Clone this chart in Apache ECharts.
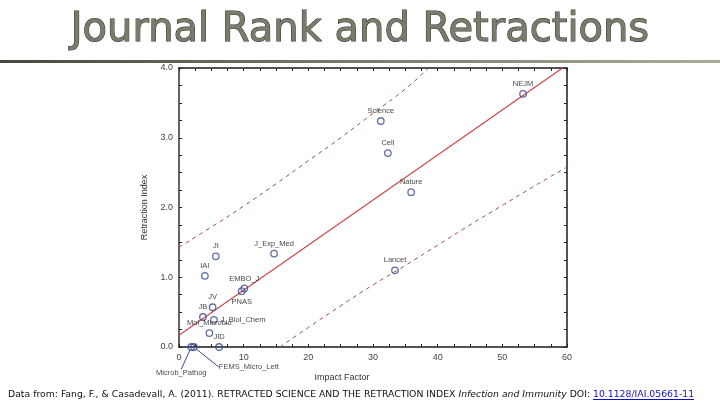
<!DOCTYPE html>
<html><head><meta charset="utf-8">
<script src="https://cdn.jsdelivr.net/npm/echarts@6/dist/echarts.min.js"></script>
<style>html,body{margin:0;padding:0;background:#fff;}#c{width:720px;height:405px;}</style>
</head><body><div id="c"></div>
<script>
// Journals: name, impact factor, retraction index
var journals = ["NEJM","Science","Cell","Nature","Lancet","J_Exp_Med","JI","IAI","EMBO_J","PNAS","JV","JB","J_Biol_Chem","Mol_Microbio","JID","Microb_Pathog","FEMS_Micro_Lett"];
var impactFactor = [53.2, 31.2, 32.3, 35.9, 33.4, 14.7, 5.7, 4.0, 10.1, 9.7, 5.2, 3.7, 5.4, 4.7, 6.2, 1.9, 2.3];
var retractionIndex = [3.63, 3.24, 2.78, 2.22, 1.10, 1.34, 1.30, 1.02, 0.84, 0.80, 0.57, 0.43, 0.39, 0.20, 0.00, 0.00, 0.00];
// Regression line and prediction band
var fitX = [0, 59.3];
var fitY = [0.17, 4.0];
var upperX = [0, 5, 10, 15, 20, 25, 30, 35, 38.6];
var upperY = [1.43, 1.72, 2.02, 2.34, 2.67, 3.0, 3.35, 3.70, 4.0];
var lowerX = [15.6, 20, 25, 30, 35, 40, 45, 50, 55, 60];
var lowerY = [0.0, 0.28, 0.59, 0.89, 1.17, 1.46, 1.75, 2.03, 2.31, 2.58];
var xTicks = [0, 10, 20, 30, 40, 50, 60];
var yTicks = [0, 1, 2, 3, 4];

function zip(a, b) { return a.map(function (v, i) { return [v, b[i]]; }); }

var labelPos = {
  "PNAS": {position: "bottom", distance: 3},
  "JB": {position: "top", offset: [-6, -3]},
  "J_Biol_Chem": {position: "right", distance: 3},
  "Mol_Microbio": {position: "top", offset: [-9, 1]},
  "JID": {position: "top", offset: [3, 0]},
  "EMBO_J": {position: "top", offset: [-1, 0]}
};

var pts = journals.map(function (n, i) {
  var item = {name: n, value: [impactFactor[i], retractionIndex[i]]};
  if (labelPos[n]) item.label = labelPos[n];
  if (n === "Microb_Pathog" || n === "FEMS_Micro_Lett") item.labelLine = {show: true};
  return item;
});

var chart = echarts.init(document.getElementById('c'));
var axisLine = {show: true, onZero: false, lineStyle: {color: '#1a1a1a', width: 1.5}};
var tick = {show: true, inside: true, length: 3, lineStyle: {color: '#222'}};
chart.setOption({
  backgroundColor: '#fff',
  animation: false,
  title: {
    text: 'Journal Rank and Retractions', left: 'center', top: 6,
    textStyle: {fontFamily: 'DejaVu Sans', fontSize: 40, fontWeight: 'normal', color: '#767d6b', textBorderColor: '#30342b', textBorderWidth: 1}
  },
  grid: {left: 179, right: 153, top: 68, bottom: 58},
  xAxis: [{
    type: 'value', min: 0, max: 60, interval: 2.5,
    name: 'Impact Factor', nameLocation: 'middle', nameGap: 26,
    nameTextStyle: {fontFamily: 'Liberation Sans', fontSize: 9, color: '#333', padding: [0, 62, 0, 0]},
    axisLine: axisLine, axisTick: tick,
    axisLabel: {fontFamily: 'Liberation Sans', fontSize: 9, color: '#444', margin: 6,
      formatter: function (v) { return xTicks.indexOf(v) >= 0 ? String(v) : ''; }},
    splitLine: {show: false}
  }, {
    type: 'value', min: 0, max: 60, interval: 2.5, position: 'top',
    axisLine: axisLine, axisTick: tick,
    axisLabel: {show: false}, splitLine: {show: false}
  }],
  yAxis: [{
    type: 'value', min: 0, max: 4, interval: 0.25,
    name: 'Retraction Index', nameLocation: 'middle', nameGap: 30,
    nameTextStyle: {fontFamily: 'Liberation Sans', fontSize: 9, color: '#333'},
    axisLine: {show: true, onZero: false, lineStyle: {color: '#666', width: 2}},
    axisTick: tick,
    axisLabel: {fontFamily: 'Liberation Sans', fontSize: 9, color: '#444', margin: 6,
      formatter: function (v) { return yTicks.indexOf(v) >= 0 ? v.toFixed(1) : ''; }},
    splitLine: {show: false}
  }, {
    type: 'value', min: 0, max: 4, interval: 0.25, position: 'right',
    axisLine: axisLine, axisTick: tick,
    axisLabel: {show: false}, splitLine: {show: false}
  }],
  series: [{
    type: 'line', data: zip(fitX, fitY), symbol: 'none',
    lineStyle: {color: '#d0454a', width: 1.2}, z: 2
  }, {
    type: 'line', data: zip(upperX, upperY), symbol: 'none', smooth: true,
    lineStyle: {color: '#a0505a', width: 1, type: [4, 4]}, z: 2
  }, {
    type: 'line', data: zip(lowerX, lowerY), symbol: 'none', smooth: true,
    lineStyle: {color: '#a0505a', width: 1, type: [4, 4]}, z: 2
  }, {
    type: 'scatter', data: pts, symbol: 'circle', symbolSize: 6.5,
    itemStyle: {color: 'rgba(255,255,255,0)', borderColor: '#3b4b8c', borderWidth: 1.3},
    label: {show: true, position: 'top', distance: 2, formatter: '{b}', fontFamily: 'Liberation Sans', fontSize: 7.5, color: '#111'},
    labelLine: {show: false, lineStyle: {color: '#3b4b8c', width: 1}},
    labelLayout: function (p) {
      var n = journals[p.dataIndex];
      if (n === 'Microb_Pathog') return {dx: -10, dy: 36};
      if (n === 'FEMS_Micro_Lett') return {dx: 55, dy: 30};
      return {};
    },
    z: 5
  }],
  graphic: [{
    type: 'rect', left: 0, top: 60, shape: {width: 720, height: 3},
    style: {fill: new echarts.graphic.LinearGradient(0, 0, 1, 0, [{offset: 0, color: '#444a3d'}, {offset: 1, color: '#a9ae9a'}])},
    silent: true
  }, {
    type: 'text', left: 8, top: 390,
    style: {
      text: '{n|Data from: Fang, F., & Casadevall, A. (2011). RETRACTED SCIENCE AND THE RETRACTION INDEX }{i|Infection and Immunity}{n| DOI: }{l|10.1128/IAI.05661-11}',
      rich: {
        n: {fontFamily: 'DejaVu Sans', fontSize: 9.3, fill: '#111'},
        i: {fontFamily: 'DejaVu Sans', fontSize: 9.3, fontStyle: 'italic', fill: '#111'},
        l: {fontFamily: 'DejaVu Sans', fontSize: 9.3, fill: '#1010c0'}
      }
    }
  }, {
    type: 'line', shape: {x1: 593, y1: 399.5, x2: 694, y2: 399.5},
    style: {stroke: '#1010c0', lineWidth: 1}, silent: true
  }]
});
</script></body></html>
